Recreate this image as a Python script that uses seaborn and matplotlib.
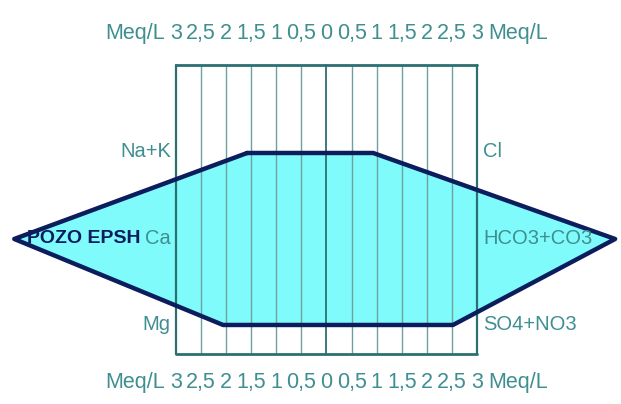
import matplotlib
matplotlib.use("Agg")
import matplotlib.pyplot as plt
import seaborn as sns
import pandas as pd

# Stiff diagram for one well sample (meq/L)
sample_name = "POZO EPSH"
cations = ["Na+K", "Ca", "Mg"]
cation_meq = [1.58, 6.22, 2.06]
anions = ["Cl", "HCO3+CO3", "SO4+NO3"]
anion_meq = [0.93, 5.75, 2.52]
scale_ticks = [-3, -2.5, -2, -1.5, -1, -0.5, 0, 0.5, 1, 1.5, 2, 2.5, 3]
scale_labels = ["3", "2,5", "2", "1,5", "1", "0,5", "0", "0,5", "1", "1,5", "2", "2,5", "3"]
unit_label = "Meq/L"

teal_text = "#3f8f90"
grid_dark = "#2c6f70"
grid_light = "#6fa0a1"
fill_col = "#80fbfb"
line_col = "#0c1d5e"
fam = ["Liberation Sans", "DejaVu Sans"]

sns.set_theme(style="white")
plt.rcParams["font.family"] = fam

fig = plt.figure(figsize=(6.21, 4.04), dpi=100)
ax = fig.add_axes([0, 0, 1, 1])
ax.set_xlim(-6.504, 5.867)
ax.set_ylim(2.919, -1.779)
ax.axis("off")

rows = list(range(len(cations)))
grid_top, grid_bot = -1.023, 2.337

# polygon: cations to the left (negative), anions to the right
xs = [-v for v in cation_meq] + anion_meq[::-1]
ys = rows + rows[::-1]
poly = pd.DataFrame({"meq": xs + [xs[0]], "row": ys + [ys[0]]})
ax.fill(xs, ys, color=fill_col, zorder=1, lw=0)

# scale grid
for t in scale_ticks:
    if abs(t) == 3:
        c, w = grid_dark, 1.6
    elif t == 0:
        c, w = grid_dark, 1.3
    else:
        c, w = grid_light, 1.0
    ax.plot([t, t], [grid_top, grid_bot], color=c, lw=w, zorder=2)
for yy in (grid_top, grid_bot):
    ax.plot([-3, 3], [yy, yy], color=grid_dark, lw=2.0, zorder=2)

sns.lineplot(data=poly, x="meq", y="row", sort=False, estimator=None,
             color=line_col, lw=3.2, ax=ax, zorder=3)
ax.set_xlabel("")
ax.set_ylabel("")

# scale labels top and bottom
fs = 15.5
for yl in (-1.395, 2.674):
    for t, lab in zip(scale_ticks, scale_labels):
        ax.text(t, yl, lab, ha="center", va="center", fontsize=fs,
                color=teal_text, family=fam)
    ax.text(-3.22, yl, unit_label, ha="right", va="center", fontsize=fs,
            color=teal_text, family=fam)
    ax.text(3.22, yl, unit_label, ha="left", va="center", fontsize=fs,
            color=teal_text, family=fam)

# ion names
cat_y = [-0.02, 0.99, 2.0]
for r, name in zip(cat_y, cations):
    ax.text(-3.1, r, name, ha="right", va="center", fontsize=14.5,
            color=teal_text, family=fam, zorder=4)
for r, name in zip(cat_y, anions):
    ax.text(3.12, r, name, ha="left", va="center", fontsize=14.5,
            color=teal_text, family=fam, zorder=4)

ax.text(-5.96, 0.99, sample_name, ha="left", va="center", fontsize=14,
        fontweight="bold", color=line_col, family=fam, zorder=5)

fig.savefig("out.png", dpi=100)
